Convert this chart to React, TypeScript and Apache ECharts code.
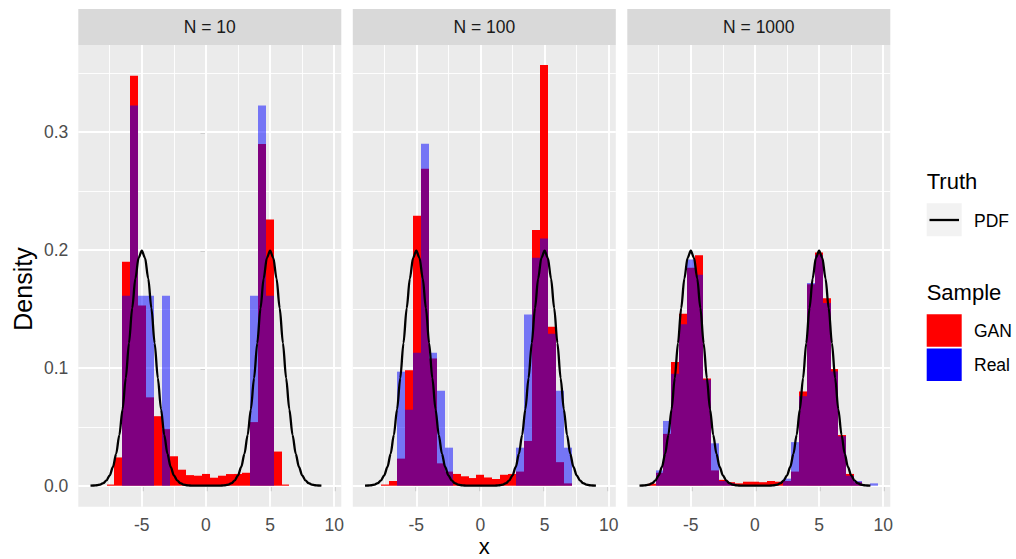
import React, { useEffect, useRef } from 'react';
import * as echarts from 'echarts';

// ---------- data ----------
const panelTitles = ['N = 10', 'N = 100', 'N = 1000'];

// histogram bin centres (bin width 0.62)
const binCenters = [
  -8.06, -7.44, -6.82, -6.2, -5.58, -4.96, -4.34, -3.72, -3.1, -2.48,
  -1.86, -1.24, -0.62, 0, 0.62, 1.24, 1.86, 2.48, 3.1, 3.72,
  4.34, 4.96, 5.58, 6.2, 6.82, 7.44, 8.06, 8.68, 9.3,
];
const BIN_WIDTH = 0.62;

// N = 10
const gan10 = [
  0, 0.001, 0.024, 0.19, 0.348, 0.153, 0.075, 0.059, 0.048, 0.025,
  0.0136, 0.009, 0.0085, 0.01, 0.0068, 0.0085, 0.0099, 0.01, 0.011, 0.054,
  0.29, 0.226, 0.029, 0.001, 0, 0, 0, 0, 0,
];
const real10 = [
  0, 0, 0, 0.1613, 0.3226, 0.1613, 0.1613, 0, 0.1613, 0,
  0, 0, 0, 0, 0, 0, 0, 0, 0, 0.1613,
  0.3226, 0.1613, 0, 0, 0, 0, 0, 0, 0,
];

// N = 100
const gan100 = [
  0, 0.001, 0.004, 0.023, 0.098, 0.229, 0.269, 0.108, 0.019, 0.012,
  0.01, 0.008, 0.0065, 0.0093, 0.007, 0.0057, 0.0093, 0.01, 0.012, 0.038,
  0.217, 0.357, 0.135, 0.02, 0.002, 0, 0, 0, 0,
];
const real100 = [
  0, 0, 0, 0.0968, 0.0645, 0.1129, 0.2903, 0.1129, 0.0806, 0.0323,
  0, 0, 0, 0, 0, 0, 0, 0, 0.0323, 0.1452,
  0.1935, 0.2097, 0.129, 0.0806, 0.0323, 0, 0, 0, 0,
];

// N = 1000
const gan1000 = [
  0.0017, 0.011, 0.044, 0.105, 0.146, 0.185, 0.1955, 0.091, 0.013, 0.005,
  0.003, 0.002, 0.0034, 0.0034, 0.003, 0.004, 0.0034, 0.004, 0.012, 0.08,
  0.171, 0.198, 0.159, 0.099, 0.043, 0.01, 0.003, 0, 0,
];
const real1000 = [
  0, 0.013, 0.055, 0.095, 0.137, 0.192, 0.179, 0.09, 0.036, 0.004,
  0.002, 0, 0, 0, 0, 0, 0, 0.006, 0.037, 0.076,
  0.172, 0.196, 0.155, 0.097, 0.042, 0.0085, 0.004, 0, 0.002,
];

const ganByPanel = [gan10, gan100, gan1000];
const realByPanel = [real10, real100, real1000];

// true PDF
const pdfX = [
  -9, -8.75, -8.5, -8.25, -8, -7.75, -7.5, -7.25, -7, -6.75, -6.5, -6.25,
  -6, -5.75, -5.5, -5.25, -5, -4.75, -4.5, -4.25, -4, -3.75, -3.5, -3.25,
  -3, -2.75, -2.5, -2.25, -2, -1.75, -1.5, -1.25, -1, -0.75, -0.5, -0.25,
  0, 0.25, 0.5, 0.75, 1, 1.25, 1.5, 1.75, 2, 2.25, 2.5, 2.75,
  3, 3.25, 3.5, 3.75, 4, 4.25, 4.5, 4.75, 5, 5.25, 5.5, 5.75,
  6, 6.25, 6.5, 6.75, 7, 7.25, 7.5, 7.75, 8, 8.25, 8.5, 8.75, 9,
];
const pdfY = [
  0.0001, 0.0002, 0.0004, 0.001, 0.0022, 0.0046, 0.0088, 0.0159, 0.027, 0.0431, 0.0648, 0.0913,
  0.121, 0.1506, 0.176, 0.1933, 0.1995, 0.1933, 0.176, 0.1506, 0.121, 0.0913, 0.0648, 0.0431,
  0.027, 0.0159, 0.0088, 0.0046, 0.0022, 0.001, 0.0004, 0.0002, 0.0001, 0, 0, 0,
  0, 0, 0, 0, 0.0001, 0.0002, 0.0004, 0.001, 0.0022, 0.0046, 0.0088, 0.0159,
  0.027, 0.0431, 0.0648, 0.0913, 0.121, 0.1506, 0.176, 0.1933, 0.1995, 0.1933, 0.176, 0.1506,
  0.121, 0.0913, 0.0648, 0.0431, 0.027, 0.0159, 0.0088, 0.0046, 0.0022, 0.001, 0.0004, 0.0002, 0.0001,
];

const xTicks = [-5, 0, 5, 10];
const xMinorGrid = [-7.5, -2.5, 2.5, 7.5];
const yTicks = [0, 0.1, 0.2, 0.3];
const yMinorGrid = [0.05, 0.15, 0.25, 0.35];

const X_MIN = -9.95;
const X_MAX = 10.55;
const Y_MIN = -0.0178;
const Y_MAX = 0.374;

// ---------- layout ----------
const FONT = '"Liberation Sans", Arial, Helvetica, sans-serif';
const PANEL_LEFT = 78.3;
const PANEL_STEP = 274.5;
const PANEL_W = 263;
const PANEL_TOP = 45;
const PANEL_H = 461.7;
const STRIP_TOP = 9;

export default function App() {
  const ref = useRef<HTMLDivElement>(null);

  useEffect(() => {
    if (!ref.current) return;
    const chart = echarts.init(ref.current, undefined, { renderer: 'svg' });

    const grids: any[] = [];
    const xAxes: any[] = [];
    const yAxes: any[] = [];
    const series: any[] = [];
    const graphics: any[] = [];

    panelTitles.forEach((title, i) => {
      const left = PANEL_LEFT + i * PANEL_STEP;
      grids.push({
        left, top: PANEL_TOP, width: PANEL_W, height: PANEL_H,
        show: true, backgroundColor: '#EBEBEB', borderWidth: 0, containLabel: false,
      });
      xAxes.push({
        type: 'value', gridIndex: i, min: X_MIN, max: X_MAX,
        axisLine: { show: false },
        splitLine: { show: false },
        axisTick: { show: true, customValues: xTicks, length: 5.5, lineStyle: { color: '#333333', width: 1.3 } },
        axisLabel: {
          show: true, customValues: xTicks, margin: 9,
          color: '#4D4D4D', fontSize: 17.5, fontFamily: FONT,
          formatter: (v: number) => String(v),
        },
      });
      yAxes.push({
        type: 'value', gridIndex: i, min: Y_MIN, max: Y_MAX,
        axisLine: { show: false },
        splitLine: { show: false },
        axisTick: { show: i === 0, customValues: yTicks, length: 5.5, lineStyle: { color: '#333333', width: 1.3 } },
        axisLabel: {
          show: i === 0, customValues: yTicks, margin: 10,
          color: '#4D4D4D', fontSize: 17.5, fontFamily: FONT,
          formatter: (v: number) => v.toFixed(1),
        },
      });

      // grid lines (drawn beneath the bars)
      const ml: any[] = [];
      xMinorGrid.forEach((v) => ml.push({ xAxis: v, lineStyle: { width: 0.9 } }));
      yMinorGrid.forEach((v) => ml.push({ yAxis: v, lineStyle: { width: 0.9 } }));
      xTicks.forEach((v) => ml.push({ xAxis: v, lineStyle: { width: 1.9 } }));
      yTicks.forEach((v) => ml.push({ yAxis: v, lineStyle: { width: 1.9 } }));
      series.push({
        type: 'line', xAxisIndex: i, yAxisIndex: i, z: 1,
        data: [[0, 0]], showSymbol: false, symbol: 'none', lineStyle: { width: 0, opacity: 0 },
        silent: true,
        markLine: {
          z: 1, zlevel: 0,
          silent: true, symbol: ['none', 'none'], label: { show: false },
          lineStyle: { color: '#FFFFFF', type: 'solid' },
          emphasis: { disabled: true },
          animation: false,
          data: ml,
        },
      });

      const barSeries = (name: string, values: number[], color: string, z: number) => ({
        type: 'custom', name, xAxisIndex: i, yAxisIndex: i, z,
        silent: true,
        data: binCenters.map((c, k) => [c, values[k]]).filter((d) => d[1] > 0),
        encode: { x: 0, y: 1 },
        renderItem: (_params: any, api: any) => {
          const c = api.value(0);
          const v = api.value(1);
          const p1 = api.coord([c - BIN_WIDTH / 2, v]);
          const p2 = api.coord([c + BIN_WIDTH / 2, 0]);
          const x1 = Math.round(p1[0]);
          const x2 = Math.round(p2[0]);
          return {
            type: 'rect',
            shape: { x: x1, y: p1[1], width: x2 - x1, height: p2[1] - p1[1] },
            style: { fill: color },
          };
        },
      });
      series.push(barSeries('GAN', ganByPanel[i], '#FF0000', 3));
      series.push(barSeries('Real', realByPanel[i], 'rgba(0,0,255,0.5)', 4));

      series.push({
        type: 'line', name: 'PDF', xAxisIndex: i, yAxisIndex: i, z: 6,
        data: pdfX.map((x, k) => [x, pdfY[k]]),
        showSymbol: false, symbol: 'none', smooth: 0.3, smoothMonotone: 'x',
        lineStyle: { color: '#000000', width: 2.3 },
        silent: true,
      });

      // strip
      graphics.push({
        type: 'rect', shape: { x: left, y: STRIP_TOP, width: PANEL_W, height: PANEL_TOP - STRIP_TOP },
        style: { fill: '#D9D9D9' }, silent: true,
      });
      graphics.push({
        type: 'text', x: left + PANEL_W / 2, y: (STRIP_TOP + PANEL_TOP) / 2,
        style: {
          text: title, fill: '#1A1A1A', fontSize: 17.5, fontFamily: FONT,
          textAlign: 'center', textVerticalAlign: 'middle',
        },
        silent: true,
      });
    });

    // axis titles
    graphics.push({
      type: 'text', x: 484.3, y: 546,
      style: { text: 'x', fill: '#000000', fontSize: 22, fontFamily: FONT, textAlign: 'center', textVerticalAlign: 'middle' },
    });
    graphics.push({
      type: 'text', x: 23, y: 289, rotation: Math.PI / 2,
      style: { text: 'Density', fill: '#000000', fontSize: 25, fontFamily: FONT, textAlign: 'center', textVerticalAlign: 'middle' },
    });

    // legend: Truth
    graphics.push({
      type: 'text', x: 926.7, y: 181,
      style: { text: 'Truth', fill: '#000000', fontSize: 22, fontFamily: FONT, textAlign: 'left', textVerticalAlign: 'middle' },
    });
    graphics.push({ type: 'rect', shape: { x: 926.7, y: 203.3, width: 35, height: 33 }, style: { fill: '#F2F2F2' } });
    graphics.push({ type: 'line', shape: { x1: 929.5, y1: 220, x2: 959, y2: 220 }, style: { stroke: '#000000', lineWidth: 2.3 } });
    graphics.push({
      type: 'text', x: 974, y: 221,
      style: { text: 'PDF', fill: '#000000', fontSize: 17.5, fontFamily: FONT, textAlign: 'left', textVerticalAlign: 'middle' },
    });
    // legend: Sample
    graphics.push({
      type: 'text', x: 926.7, y: 292,
      style: { text: 'Sample', fill: '#000000', fontSize: 22, fontFamily: FONT, textAlign: 'left', textVerticalAlign: 'middle' },
    });
    graphics.push({ type: 'rect', shape: { x: 926.7, y: 314.3, width: 35, height: 32.5 }, style: { fill: '#FF0000' } });
    graphics.push({ type: 'rect', shape: { x: 926.7, y: 348.5, width: 35, height: 32.5 }, style: { fill: '#0000FF' } });
    graphics.push({
      type: 'text', x: 974, y: 330.5,
      style: { text: 'GAN', fill: '#000000', fontSize: 17.5, fontFamily: FONT, textAlign: 'left', textVerticalAlign: 'middle' },
    });
    graphics.push({
      type: 'text', x: 974, y: 365,
      style: { text: 'Real', fill: '#000000', fontSize: 17.5, fontFamily: FONT, textAlign: 'left', textVerticalAlign: 'middle' },
    });

    chart.setOption({
      animation: false,
      backgroundColor: '#FFFFFF',
      textStyle: { fontFamily: FONT },
      grid: grids,
      xAxis: xAxes,
      yAxis: yAxes,
      series,
      graphic: { elements: graphics },
    });

    return () => chart.dispose();
  }, []);

  return (
    <div
      ref={ref}
      style={{ position: 'fixed', left: 0, top: 0, width: 1016, height: 559, background: '#FFFFFF' }}
    />
  );
}
